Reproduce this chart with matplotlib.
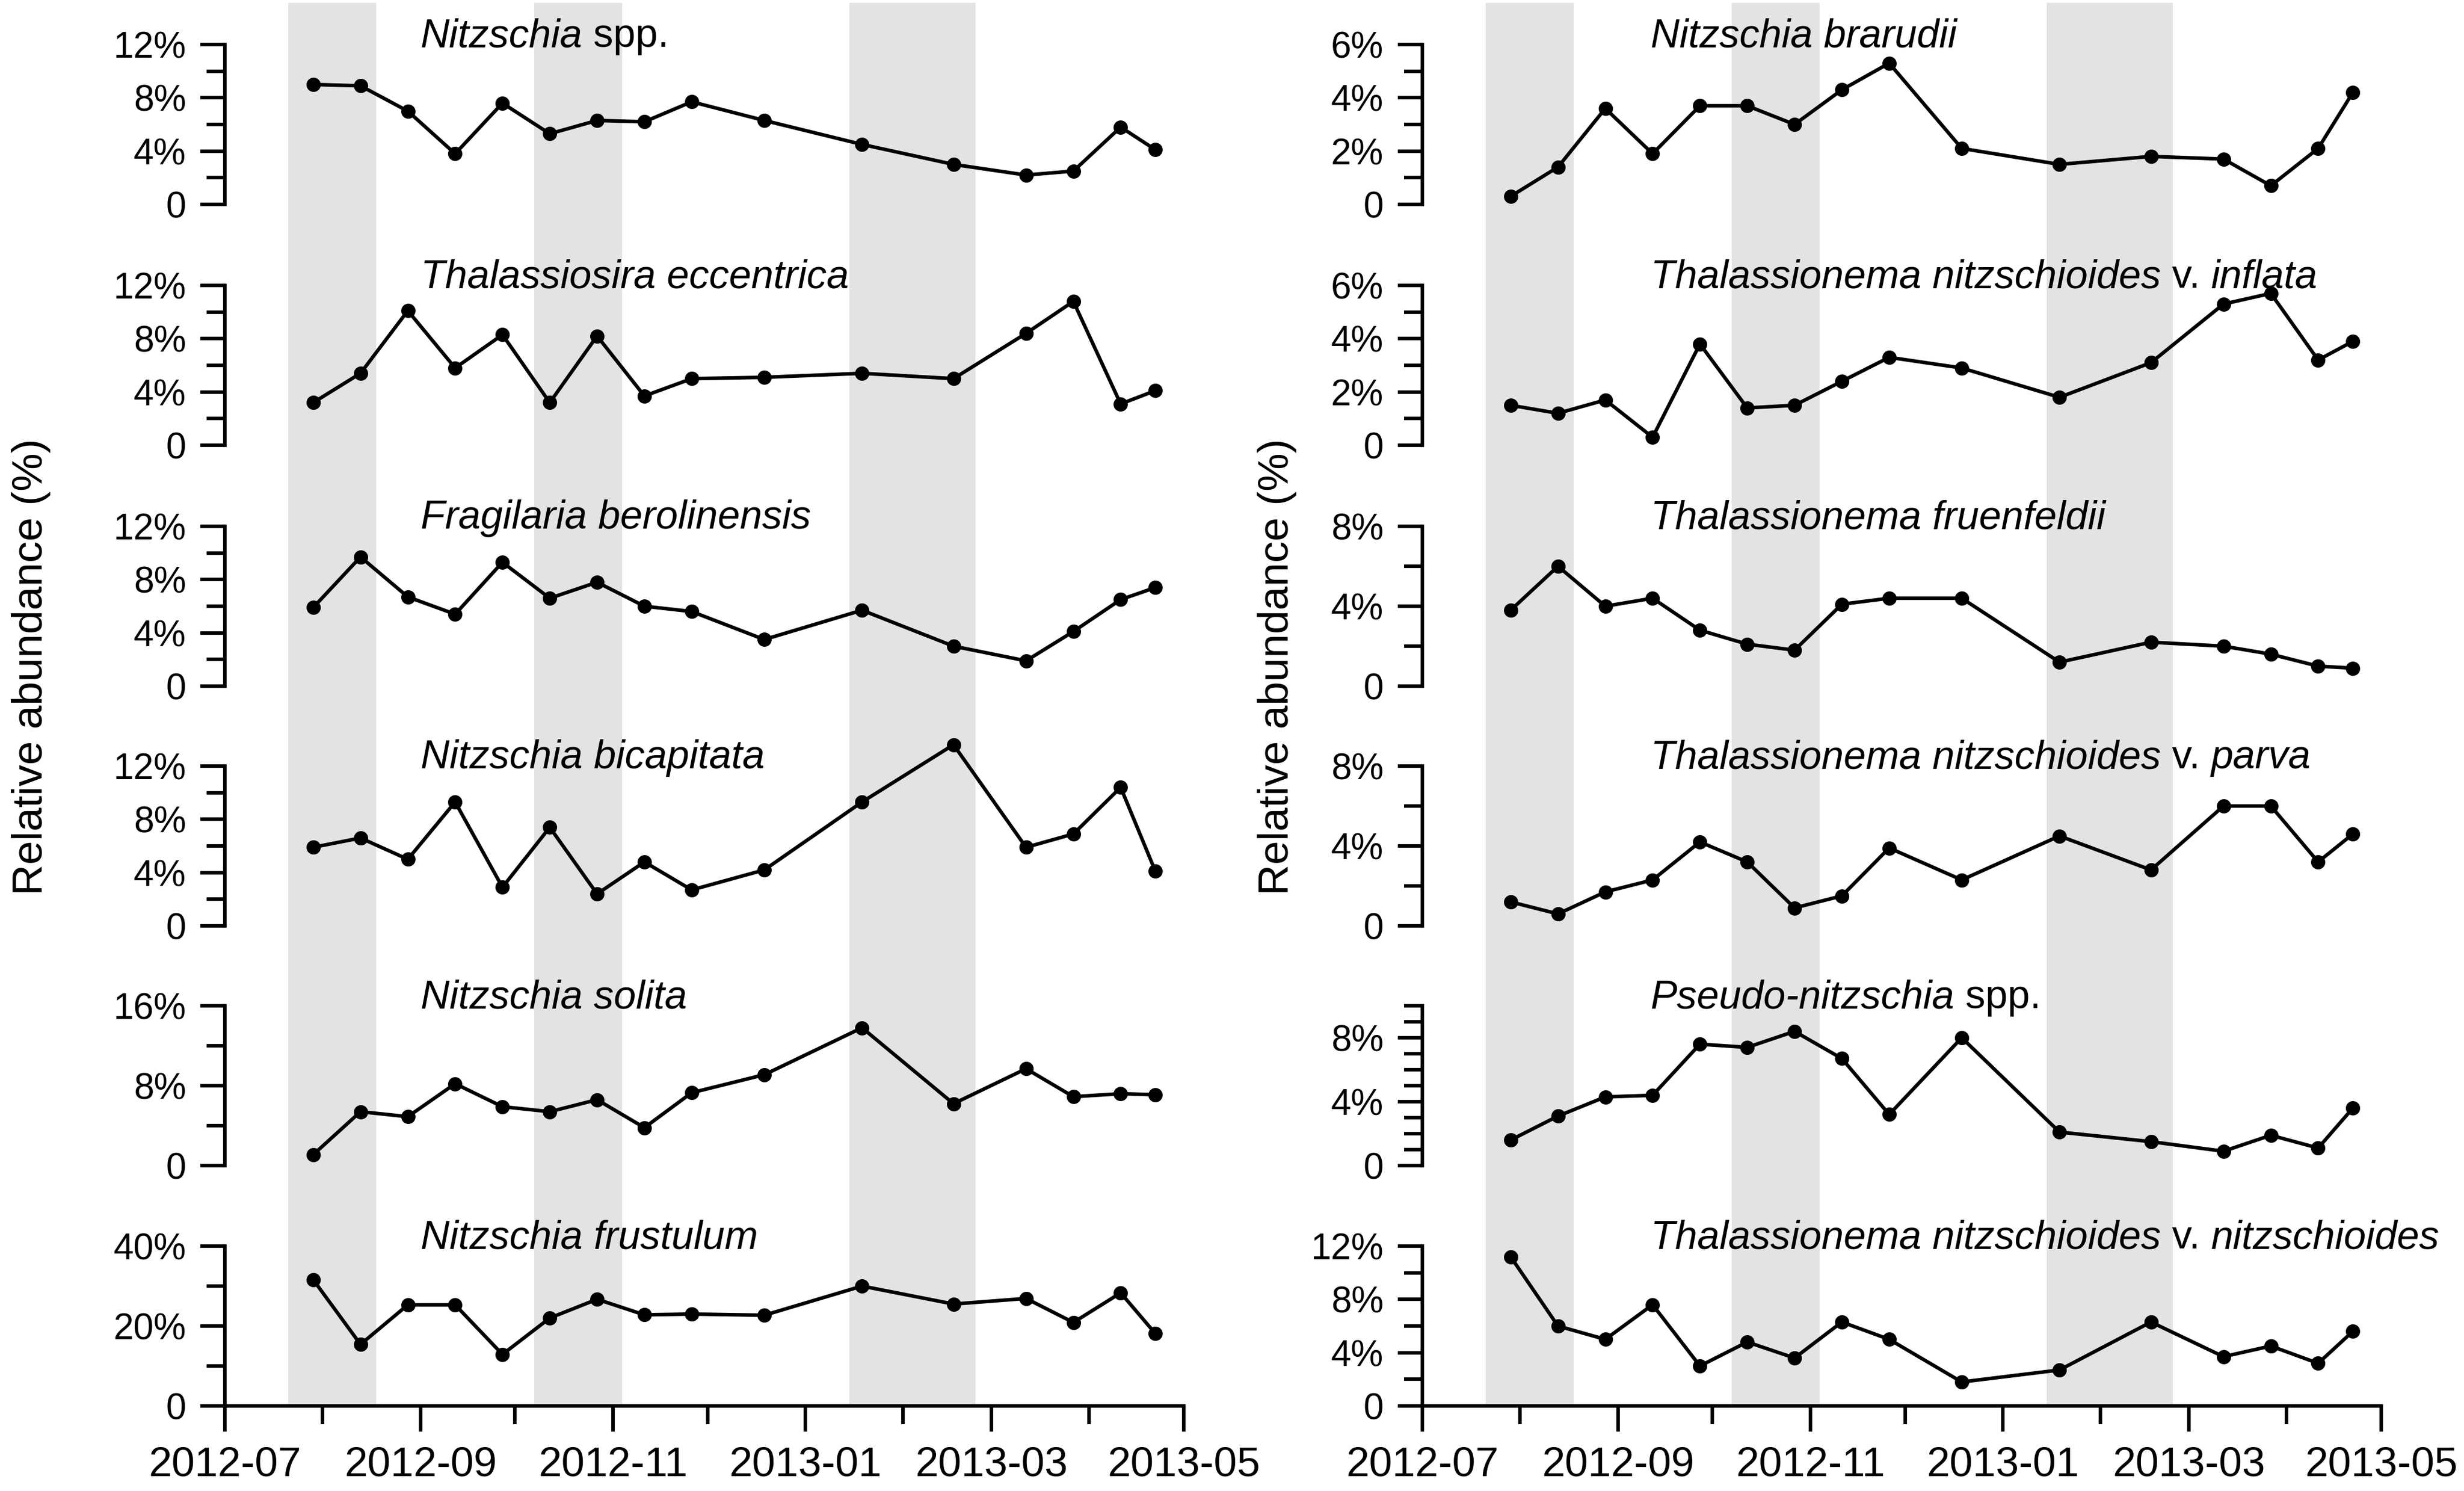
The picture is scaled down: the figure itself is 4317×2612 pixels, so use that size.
import pandas as pd
import matplotlib
matplotlib.use('Agg')
import matplotlib.pyplot as plt
import matplotlib.dates as mdates
import matplotlib.ticker as ticker

plt.rcParams['font.family'] = ['Liberation Sans', 'DejaVu Sans']

# --- data ---
sample_dates = pd.to_datetime([
    '2012-07-29', '2012-08-13', '2012-08-28', '2012-09-12', '2012-09-27',
    '2012-10-12', '2012-10-27', '2012-11-11', '2012-11-26', '2012-12-19',
    '2013-01-19', '2013-02-17', '2013-03-12', '2013-03-27', '2013-04-11',
    '2013-04-22'])

# shaded periods
band_starts = pd.to_datetime(['2012-07-21', '2012-10-07', '2013-01-15'])
band_ends = pd.to_datetime(['2012-08-18', '2012-11-04', '2013-02-24'])

# left column (%)
nitzschia_spp = [9.0, 8.9, 7.0, 3.8, 7.6, 5.3, 6.3, 6.2, 7.7, 6.3, 4.5, 3.0, 2.2, 2.5, 5.8, 4.1]
thal_eccentrica = [3.2, 5.4, 10.1, 5.8, 8.3, 3.2, 8.2, 3.7, 5.0, 5.1, 5.4, 5.0, 8.4, 10.8, 3.1, 4.1]
frag_berolinensis = [5.9, 9.7, 6.7, 5.4, 9.3, 6.6, 7.8, 6.0, 5.6, 3.5, 5.7, 3.0, 1.9, 4.1, 6.5, 7.4]
nitz_bicapitata = [5.9, 6.6, 5.0, 9.3, 2.9, 7.4, 2.4, 4.8, 2.7, 4.2, 9.3, 13.6, 5.9, 6.9, 10.4, 4.1]
nitz_solita = [1.1, 5.4, 4.9, 8.2, 5.9, 5.4, 6.6, 3.8, 7.3, 9.1, 13.8, 6.2, 9.7, 6.9, 7.2, 7.1]
nitz_frustulum = [31.6, 15.4, 25.3, 25.3, 12.9, 22.0, 26.7, 22.8, 23.0, 22.7, 30.0, 25.5, 26.9, 20.9, 28.3, 18.1]

# right column (%)
nitz_brarudii = [0.3, 1.4, 3.6, 1.9, 3.7, 3.7, 3.0, 4.3, 5.3, 2.1, 1.5, 1.8, 1.7, 0.7, 2.1, 4.2]
thal_inflata = [1.5, 1.2, 1.7, 0.3, 3.8, 1.4, 1.5, 2.4, 3.3, 2.9, 1.8, 3.1, 5.3, 5.7, 3.2, 3.9]
thal_fruenfeldii = [3.8, 6.0, 4.0, 4.4, 2.8, 2.1, 1.8, 4.1, 4.4, 4.4, 1.2, 2.2, 2.0, 1.6, 1.0, 0.9]
thal_parva = [1.2, 0.6, 1.7, 2.3, 4.2, 3.2, 0.9, 1.5, 3.9, 2.3, 4.5, 2.8, 6.0, 6.0, 3.2, 4.6]
pseudo_nitzschia = [1.6, 3.1, 4.3, 4.4, 7.6, 7.4, 8.4, 6.7, 3.2, 8.0, 2.1, 1.5, 0.9, 1.9, 1.1, 3.6]
thal_nitzschioides = [11.2, 6.0, 5.0, 7.6, 3.0, 4.8, 3.6, 6.3, 5.0, 1.8, 2.7, 6.3, 3.7, 4.5, 3.2, 5.6]

# titles: list of (text, italic?)
left_titles = [
    [('Nitzschia', True), (' spp.', False)],
    [('Thalassiosira eccentrica', True)],
    [('Fragilaria berolinensis', True)],
    [('Nitzschia bicapitata', True)],
    [('Nitzschia solita', True)],
    [('Nitzschia frustulum', True)],
]
right_titles = [
    [('Nitzschia brarudii', True)],
    [('Thalassionema nitzschioides', True), (' v. ', False), ('inflata', True)],
    [('Thalassionema fruenfeldii', True)],
    [('Thalassionema nitzschioides', True), (' v. ', False), ('parva', True)],
    [('Pseudo-nitzschia', True), (' spp.', False)],
    [('Thalassionema nitzschioides', True), (' v. ', False), ('nitzschioides', True)],
]
left_series = [nitzschia_spp, thal_eccentrica, frag_berolinensis,
               nitz_bicapitata, nitz_solita, nitz_frustulum]
right_series = [nitz_brarudii, thal_inflata, thal_fruenfeldii,
                thal_parva, pseudo_nitzschia, thal_nitzschioides]

# y axis: (top, major step, minor step)
left_yaxes = [(12, 4, 2), (12, 4, 2), (12, 4, 2), (12, 4, 2), (16, 8, 4), (40, 20, 10)]
right_yaxes = [(6, 2, 1), (6, 2, 1), (8, 4, 2), (8, 4, 2), (10, 4, 1), (12, 4, 2)]

x_start = pd.Timestamp('2012-07-01')
x_end = pd.Timestamp('2013-05-01')

# --- layout (pixels of the 4317 x 2612 output) ---
W, H = 4317, 2612
fig = plt.figure(figsize=(W / 300, H / 300), dpi=300)

col_left = [394, 2492]
col_width = 1680
row_tops = [78, 500, 922, 1342, 1762, 2183]
row_h = 280
bottom_px = 2462
title_x = [0.204, 0.238]


def pct_fmt(v, pos):
    if abs(v) < 1e-9:
        return '0'
    return f'{v:g}%'


def draw_title(ax, xfrac, parts):
    prev = None
    for txt, ital in parts:
        style = 'italic' if ital else 'normal'
        if prev is None:
            prev = ax.annotate(txt, xy=(xfrac, 1), xycoords='axes fraction',
                               xytext=(0, -1), textcoords='offset points',
                               va='baseline', ha='left', fontsize=16.8,
                               fontstyle=style)
        else:
            prev = ax.annotate(txt, xy=(1, 0), xycoords=prev,
                               va='bottom', ha='left', fontsize=16.8,
                               fontstyle=style)


for c in range(2):
    x0 = col_left[c] / W
    w = col_width / W

    # shaded periods behind the whole column
    bg = fig.add_axes([x0, 1 - bottom_px / H, w, (bottom_px - 5) / H], zorder=0)
    bg.set_xlim(x_start, x_end)
    for s, e in zip(band_starts, band_ends):
        bg.axvspan(s, e, color='#e3e3e3', lw=0)
    bg.axis('off')

    series = left_series if c == 0 else right_series
    titles = left_titles if c == 0 else right_titles
    yaxes = left_yaxes if c == 0 else right_yaxes

    for r in range(6):
        ax = fig.add_axes([x0, 1 - (row_tops[r] + row_h) / H, w, row_h / H], zorder=2)
        ax.patch.set_alpha(0)
        ax.plot(sample_dates, series[r], color='black', lw=1.5,
                marker='o', ms=5, clip_on=False)

        top, major, minor = yaxes[r]
        ax.set_ylim(0, top)
        ax.set_xlim(x_start, x_end)
        ax.yaxis.set_major_locator(ticker.MultipleLocator(major))
        ax.yaxis.set_minor_locator(ticker.MultipleLocator(minor))
        ax.yaxis.set_major_formatter(ticker.FuncFormatter(pct_fmt))
        ax.tick_params(axis='y', which='major', length=10.3, width=1.5,
                       labelsize=15.3, pad=6)
        ax.tick_params(axis='y', which='minor', length=7.7, width=1.5)

        for sp in ['top', 'right']:
            ax.spines[sp].set_visible(False)
        ax.spines['left'].set_linewidth(1.5)

        if r == 5:
            ax.xaxis.set_major_locator(mdates.MonthLocator(bymonth=[1, 3, 5, 7, 9, 11]))
            ax.xaxis.set_minor_locator(mdates.MonthLocator())
            ax.xaxis.set_major_formatter(mdates.DateFormatter('%Y-%m'))
            ax.tick_params(axis='x', which='major', length=10.8, width=1.5,
                           labelsize=17.5, pad=6)
            ax.tick_params(axis='x', which='minor', length=7.7, width=1.5)
            ax.spines['bottom'].set_linewidth(1.5)
        else:
            ax.spines['bottom'].set_visible(False)
            ax.tick_params(axis='x', which='both', bottom=False, labelbottom=False)

        draw_title(ax, title_x[c], titles[r])

# y labels
fig.text(55 / W, 1 - 1168 / H, 'Relative abundance (%)', rotation=90,
         ha='center', va='center', fontsize=18)
fig.text(2238 / W, 1 - 1168 / H, 'Relative abundance (%)', rotation=90,
         ha='center', va='center', fontsize=18)

fig.savefig('out.png', dpi=300)
